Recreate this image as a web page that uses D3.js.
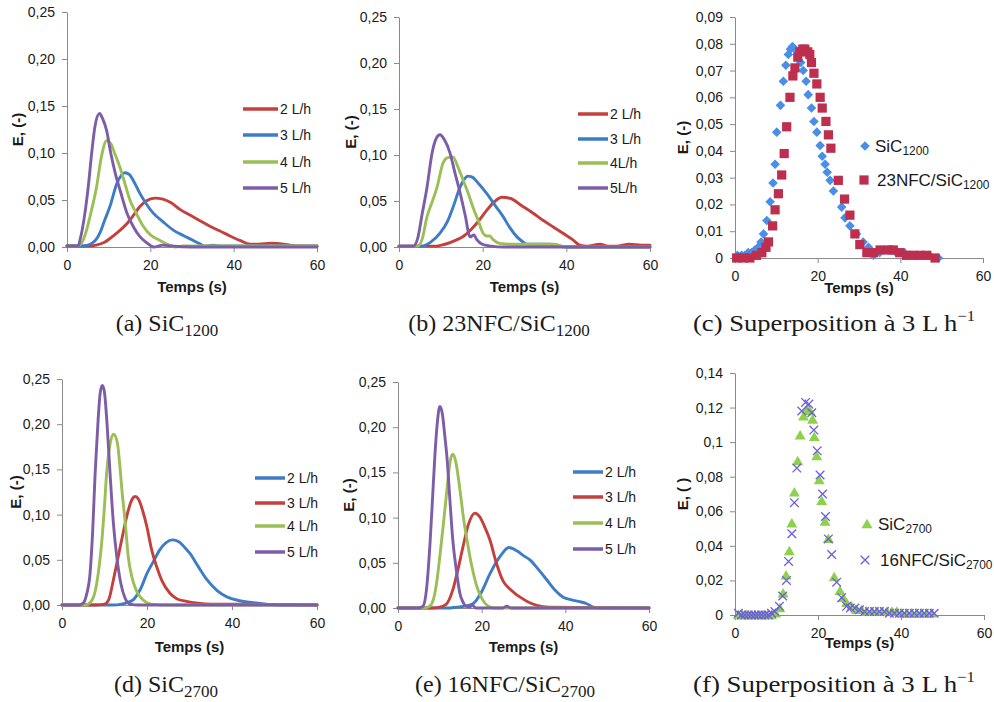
<!DOCTYPE html>
<html><head><meta charset="utf-8">
<script src="https://cdn.jsdelivr.net/npm/d3@7"></script>
<style>body{margin:0;background:#fff}svg{display:block}</style>
</head><body><svg id="c" width="994" height="702"></svg>
<script>
// ---------- DATA ----------
// (a) SiC1200
const tA2=[0,5,7,9,10.3,12,14.4,16,17.5,19,21.1,23,25,27.1,29.5,31.9,34.3,36.7,39,41.5,44,46,49,52,55,60];
const eA2=[0.001,0.001,0.002,0.005,0.009,0.015,0.025,0.034,0.043,0.049,0.052,0.051,0.047,0.040,0.034,0.028,0.022,0.017,0.012,0.007,0.003,0.003,0.004,0.003,0.001,0.001];
const tA3=[0,3,5,7,7.9,9,10.3,12,13,13.9,15,16,17.5,19,20.7,23,25.5,28,30.3,32,33,35,37,40,45,60];
const eA3=[0.001,0.001,0.002,0.008,0.015,0.028,0.043,0.068,0.076,0.079,0.077,0.070,0.057,0.046,0.036,0.027,0.018,0.012,0.007,0.003,0.001,0.002,0.001,0.001,0.001,0.001];
const tA4=[0,2.5,3.5,4.5,5.5,7.1,8.3,9.5,10.5,11.5,12.7,14,15.1,16.5,18.3,20,22.3,24,26,28,35,60];
const eA4=[0.001,0.001,0.004,0.015,0.032,0.064,0.097,0.113,0.110,0.099,0.085,0.066,0.050,0.037,0.022,0.013,0.007,0.003,0.000,0.001,0.001,0.001];
const tA5=[0,2.7,3.1,4.3,5.1,6,6.7,7.8,8.6,9.5,10.5,11.5,12.9,14.4,16,17.5,19,20.8,23,25,30,60];
const eA5=[0.001,0.001,0.007,0.036,0.064,0.103,0.128,0.142,0.136,0.124,0.100,0.080,0.058,0.036,0.021,0.011,0.005,0.000,0.002,0.001,0.000,0.000];
// (b) 23NFC/SiC1200
const tB2=[0,5,9,11,13.9,15.5,17,19,21,23,24.6,26.5,29.6,32,34.4,36.8,39.2,41.5,43.2,45,48,50,52,55,58,60];
const eB2=[0.001,0.001,0.001,0.003,0.008,0.012,0.018,0.028,0.040,0.050,0.054,0.053,0.044,0.037,0.029,0.022,0.015,0.008,0.002,0.001,0.003,0.001,0.001,0.003,0.002,0.002];
const tB3=[0,4,5.5,7.5,9.8,11.5,12.9,14.6,15.5,16.5,17.5,19,21,23,24.9,26.5,28.2,29.5,30.6,33,36,38,40,60];
const eB3=[0.001,0.001,0.001,0.005,0.015,0.027,0.043,0.065,0.073,0.077,0.076,0.069,0.058,0.045,0.033,0.021,0.011,0.006,0.003,0.003,0.003,0.001,0.000,0.000];
const tB4=[0,4.5,5.5,6.7,8,9.1,10.5,11.5,12.9,14,15.3,16.5,17.7,19,20.1,21,21.7,22.5,24.1,27,30,37,40,60];
const eB4=[0.001,0.001,0.008,0.033,0.050,0.065,0.091,0.097,0.098,0.088,0.073,0.059,0.043,0.028,0.015,0.012,0.012,0.008,0.004,0.003,0.003,0.003,0.000,0.000];
const tB5=[0,3.4,4.5,5.5,6.7,7.9,8.8,9.8,10.8,12.2,13.4,14.6,15.8,17,17.9,18.6,19.9,22,25,30,60];
const eB5=[0.001,0.001,0.010,0.035,0.065,0.102,0.117,0.122,0.117,0.102,0.080,0.059,0.035,0.011,0.013,0.008,0.003,0.001,0.000,0.000,0.000];
// (d) SiC2700
const tD2=[0,12,14,15.5,16.8,18.5,20,21.5,23,24.5,26,27.5,29,30.1,32,34.1,36.5,38.8,41.5,44.2,48,52,56,60];
const eD2=[0,0,0.001,0.003,0.006,0.018,0.035,0.048,0.061,0.069,0.072,0.070,0.063,0.057,0.043,0.028,0.016,0.009,0.005,0.003,0.001,0,0,0];
const tD3=[0,8,10,11,12.1,13.2,14.4,15.5,16.5,17.2,18,19,20,21,22.3,23.5,25.4,27,29.3,32,35,40,60];
const eD3=[0,0,0.001,0.006,0.028,0.053,0.080,0.103,0.117,0.120,0.117,0.104,0.086,0.063,0.042,0.027,0.013,0.007,0.004,0.002,0.001,0.001,0];
const tD4=[0,5.5,6.7,7.8,8.8,9.4,10,10.5,11.2,12.1,13,13.6,14.1,14.8,15.6,16.5,17.4,18.4,19.5,21,25,60];
const eD4=[0,0,0.003,0.015,0.045,0.072,0.110,0.146,0.175,0.189,0.180,0.155,0.127,0.095,0.053,0.030,0.017,0.009,0.004,0.001,0,0];
const tD5=[0,4,5,5.8,6.6,7.2,7.8,8.5,9,9.5,10,10.6,11.3,12.1,12.9,13.8,14.8,16,18,60];
const eD5=[0,0,0.002,0.012,0.035,0.080,0.146,0.205,0.235,0.243,0.235,0.200,0.146,0.090,0.053,0.025,0.008,0.001,0,0];
// (e) 16NFC/SiC2700
const tE2=[0,12,14,16,18,20,22,24.4,26.5,28.5,30,31.6,33.5,35.6,37.5,39.5,41.5,43.5,45,46.7,48,55,60];
const eE2=[0,0,0.001,0.002,0.005,0.018,0.038,0.057,0.067,0.063,0.058,0.053,0.043,0.031,0.020,0.012,0.009,0.007,0.005,0.001,0,0,0];
const tE3=[0,8,10,11.5,13.1,14.3,15.5,16.8,18.4,19.5,20.8,22,23.5,25.1,26.5,28,29.2,31,33.2,36,60];
const eE3=[0,0,0.001,0.004,0.020,0.042,0.067,0.092,0.105,0.101,0.089,0.075,0.050,0.030,0.022,0.016,0.012,0.007,0.003,0.001,0];
const tE4=[0,6.5,7.6,8.5,9.3,10,10.9,11.7,12.5,13.1,13.8,14.8,15.7,16.5,17.7,18.9,20,21.3,23,60];
const eE4=[0,0,0.002,0.010,0.030,0.057,0.095,0.131,0.163,0.170,0.162,0.131,0.098,0.075,0.045,0.023,0.011,0.003,0,0];
const tE5=[0,5,6,6.8,7.7,8.3,8.8,9.4,10,10.6,11.2,11.7,12.4,13.1,14,14.8,15.6,16.3,17.1,17.8,18.6,20,25,26,27,60];
const eE5=[0,0,0.002,0.020,0.075,0.125,0.167,0.205,0.223,0.215,0.190,0.167,0.120,0.075,0.040,0.016,0.006,0.002,0.001,0.003,0.000,0,0,0.002,0,0];
// (c) superposition 3 L/h, SiC1200 vs 23NFC/SiC1200
const tC1=[0.6,1.6,2.4,3.2,4,4.8,5.6,6.3,6.9,7.7,8.5,9.2,9.7,10.1,11,11.7,12.3,12.9,13.4,13.9,14.5,15.2,15.9,16.5,17.2,17.7,18.5,19.1,19.8,20.6,21.1,21.8,22.3,23,23.8,25.8,26.6,27.8,29.4,31,32.3,33.5,35,37,39,41,43,45,47,49.2];
const eC1=[0.001,0.001,0.001,0.002,0.002,0.003,0.004,0.006,0.009,0.014,0.021,0.028,0.035,0.047,0.057,0.066,0.072,0.076,0.078,0.079,0.078,0.076,0.073,0.070,0.066,0.061,0.056,0.051,0.047,0.042,0.038,0.035,0.032,0.029,0.025,0.019,0.015,0.012,0.009,0.006,0.004,0.001,0.002,0.003,0.002,0.002,0.001,0.001,0.001,0.000];
const tC2=[0.4,2,3.6,5.2,6.5,7.5,8.1,9.1,9.7,10.5,11.3,11.9,12.5,13.3,14,14.5,15.2,15.7,16.4,16.9,17.6,18.1,18.5,19.1,19.8,20.6,21.1,22,22.6,23.2,25,26.5,27.8,29,30.2,31.9,33.5,35.1,37.1,38.3,39.9,41.5,43.1,44.8,46.4,48.4];
const eC2=[0,0,0,0.001,0.002,0.004,0.006,0.012,0.018,0.024,0.031,0.039,0.049,0.060,0.068,0.071,0.075,0.077,0.078,0.078,0.077,0.076,0.073,0.069,0.065,0.060,0.056,0.051,0.046,0.041,0.029,0.022,0.016,0.009,0.005,0.002,0.002,0.003,0.003,0.003,0.002,0.001,0.001,0.001,0.001,0];
// (f) superposition 3 L/h, SiC2700 vs 16NFC/SiC2700
const tF1=[0.8,1.8,2.8,3.8,4.8,5.8,6.8,7.8,8.8,9.8,10.8,11.6,12.3,13.1,13.7,14.3,15.1,15.7,16.5,17.3,18.1,18.7,19.1,19.7,20.3,20.9,21.7,22.5,23.9,25.3,26.1,26.9,28.1,29.3,30.5,31.7,33,34.2,35.4,36.6,37.8,39,40.2,41.4,42.6,43.8,45,46.2,47.4];
const eF1=[0,0,0,0,0,0,0,0,0,0.001,0.004,0.0125,0.023,0.037,0.053,0.071,0.089,0.104,0.115,0.119,0.118,0.113,0.103,0.092,0.078,0.066,0.054,0.044,0.022,0.014,0.010,0.007,0.005,0.003,0.003,0.002,0.002,0.002,0.002,0.002,0.002,0.002,0.001,0.001,0.001,0.001,0.001,0.001,0.001];
const tF2=[0.8,1.6,2.4,3.2,4,4.8,5.6,6.4,7.2,8,8.8,9.6,10.7,11.5,12.4,12.9,13.7,14.3,14.9,16.1,17,17.8,18.5,19,19.8,20.5,21.1,21.8,22.5,23.3,24.5,25.7,26.9,27.8,28.9,30,31.2,32.4,33.6,34.8,36,37.2,38.4,39.6,40.8,42,43.2,44.4,45.6,46.8,48];
const eF2=[0.001,0,0,0,0,0,0,0,0,0,0.001,0.002,0.005,0.011,0.020,0.031,0.047,0.065,0.085,0.118,0.123,0.122,0.117,0.107,0.095,0.081,0.070,0.057,0.044,0.035,0.019,0.010,0.005,0.004,0.004,0.003,0.002,0.002,0.002,0.002,0.002,0.001,0.001,0.001,0.001,0.001,0.001,0.001,0.001,0.001,0.001];

const xTicks=[0,20,40,60];
const yTicksE=[0,0.05,0.10,0.15,0.20,0.25];
const yTicksC=[0,0.01,0.02,0.03,0.04,0.05,0.06,0.07,0.08,0.09];
const yTicksF=[0,0.02,0.04,0.06,0.08,0.10,0.12,0.14];
const flowLabels=["2 L/h","3 L/h","4 L/h","5 L/h"];
const flowLabelsB=["2 L/h","3 L/h","4L/h","5L/h"];

// ---------- STYLE ----------
const RED="#C3403D",BLUE="#3D7CC6",GREEN="#9BBE55",PURPLE="#7D5DA7";
const DIA="#4A8FE7",SQ="#BE2E4E",TRI="#8CD24A",XC="#6F5DE0";
const AX="#8a8a8a", TXT="#1a1a1a";
const SANS="'Liberation Sans', Arial, sans-serif";
const SERIF="'Liberation Serif', 'Times New Roman', serif";

const svg=d3.select("#c");
const fmt2=d=>d.toFixed(2).replace('.',',');
const fmtS=d=>d===0?'0':String(+d.toFixed(2)).replace('.',',');

function frame(cfg){
  const x=d3.scaleLinear().domain([0,60]).range([cfg.x0,cfg.x1]);
  const y=d3.scaleLinear().domain([0,cfg.ymax]).range([cfg.yb,cfg.yt]);
  const g=svg.append('g');
  const ya=g.append('g').attr('transform',`translate(${cfg.x0},0)`)
    .call(d3.axisLeft(y).tickValues(cfg.yticks).tickFormat(cfg.fmt).tickSize(5).tickSizeOuter(0).tickPadding(7));
  const xa=g.append('g').attr('transform',`translate(0,${cfg.yb})`)
    .call(d3.axisBottom(x).tickValues(xTicks).tickFormat(d=>d).tickSize(5).tickSizeOuter(0).tickPadding(8));
  [ya,xa].forEach(a=>{
    a.attr('font-family',SANS).attr('font-size',14);
    a.select('.domain').attr('stroke',AX);
    a.selectAll('.tick line').attr('stroke',AX);
    a.selectAll('.tick text').attr('fill',TXT);
  });
  g.append('text').attr('x',(cfg.x0+cfg.x1)/2).attr('y',cfg.xlabY)
    .attr('text-anchor','middle').attr('font-family',SANS).attr('font-weight','bold')
    .attr('font-size',15).attr('fill',TXT).text('Temps (s)');
  g.append('text').attr('transform',`translate(${cfg.ylabX},${(cfg.yb+cfg.yt)/2}) rotate(-90)`)
    .attr('text-anchor','middle').attr('dominant-baseline','central').attr('font-family',SANS)
    .attr('font-weight','bold').attr('font-size',15).attr('fill',TXT).text(cfg.ylab);
  return {x,y,g};
}

function linePanel(cfg){
  const {x,y,g}=frame(cfg);
  const line=d3.line().x(d=>x(d[0])).y(d=>y(d[1])).curve(d3.curveMonotoneX);
  cfg.series.forEach((s,i)=>{
    g.append('path').datum(d3.zip(s.t,s.e)).attr('d',line)
      .attr('fill','none').attr('stroke',s.color).attr('stroke-width',2.9)
      .attr('stroke-linejoin','round').attr('stroke-linecap','round');
    const ly=cfg.leg.y[i];
    g.append('line').attr('x1',cfg.leg.x1).attr('x2',cfg.leg.x2).attr('y1',ly).attr('y2',ly)
      .attr('stroke',s.color).attr('stroke-width',3.5);
    g.append('text').attr('x',cfg.leg.x2+2).attr('y',ly).attr('dominant-baseline','central')
      .attr('font-family',SANS).attr('font-size',14).attr('fill',TXT).text(s.label);
  });
}

function sym(g,type,color,cx,cy){
  if(type==='dia'){
    g.append('path').attr('d',d3.symbol(d3.symbolSquare,46)()).attr('transform',`translate(${cx},${cy}) rotate(45)`).attr('fill',color);
  } else if(type==='sq'){
    g.append('path').attr('d',d3.symbol(d3.symbolSquare,85)()).attr('transform',`translate(${cx},${cy})`).attr('fill',color);
  } else if(type==='tri'){
    g.append('path').attr('d',d3.symbol(d3.symbolTriangle,52)()).attr('transform',`translate(${cx},${cy+1})`).attr('fill',color);
  } else {
    const r=4.3;
    g.append('path').attr('d',`M${-r},${-r}L${r},${r}M${-r},${r}L${r},${-r}`).attr('transform',`translate(${cx},${cy})`)
      .attr('stroke',color).attr('stroke-width',1.3).attr('fill','none');
  }
}

function legText(g,x,y,main,sub,fs){
  const t=g.append('text').attr('x',x).attr('y',y).attr('dominant-baseline','central')
    .attr('font-family',SANS).attr('font-size',fs).attr('fill',TXT);
  t.append('tspan').text(main);
  t.append('tspan').attr('font-size',fs*0.7).attr('dy',5).text(sub);
}

function scatterPanel(cfg){
  const {x,y,g}=frame(cfg);
  cfg.series.forEach((s,i)=>{
    s.t.forEach((tv,j)=>sym(g,s.type,s.color,x(tv),y(s.e[j])));
    sym(g,s.type,s.color,cfg.leg[i].sx,cfg.leg[i].sy);
    legText(g,cfg.leg[i].tx,cfg.leg[i].sy,s.main,s.sub,17);
  });
}

function caption(cx,by,w,parts){
  const t=svg.append('text').attr('x',cx).attr('y',by).attr('text-anchor','middle')
    .attr('font-family',SERIF).attr('font-size',24).attr('fill',TXT);
  if(w) t.attr('textLength',w).attr('lengthAdjust','spacingAndGlyphs');
  let shift=0;
  parts.forEach(p=>{
    const sp=t.append('tspan').text(p[0]);
    let target=0;
    if(p[1]==='sub'){sp.attr('font-size',17);target=5;}
    if(p[1]==='sup'){sp.attr('font-size',15);target=-10;}
    if(target!==shift){sp.attr('dy',target-shift);shift=target;}
  });
}

// ---------- PANELS ----------
linePanel({x0:67,x1:317,yb:247,yt:12,ymax:0.25,yticks:yTicksE,fmt:fmt2,ylab:'E, (-)',ylabX:17,xlabY:292,
  leg:{x1:243,x2:278,y:[109,135,162,188]},
  series:[{t:tA2,e:eA2,color:RED,label:flowLabels[0]},{t:tA3,e:eA3,color:BLUE,label:flowLabels[1]},
          {t:tA4,e:eA4,color:GREEN,label:flowLabels[2]},{t:tA5,e:eA5,color:PURPLE,label:flowLabels[3]}]});
linePanel({x0:399,x1:650,yb:247,yt:17,ymax:0.25,yticks:yTicksE,fmt:fmt2,ylab:'E, (-)',ylabX:350,xlabY:292,
  leg:{x1:578,x2:608,y:[114,139,163,188]},
  series:[{t:tB2,e:eB2,color:RED,label:flowLabelsB[0]},{t:tB3,e:eB3,color:BLUE,label:flowLabelsB[1]},
          {t:tB4,e:eB4,color:GREEN,label:flowLabelsB[2]},{t:tB5,e:eB5,color:PURPLE,label:flowLabelsB[3]}]});
scatterPanel({x0:735,x1:983,yb:258,yt:17,ymax:0.09,yticks:yTicksC,fmt:fmtS,ylab:'E, (-)',ylabX:682,xlabY:293,
  leg:[{sx:865,sy:146,tx:875},{sx:864,sy:180,tx:877}],
  series:[{t:tC1,e:eC1,type:'dia',color:DIA,main:'SiC',sub:'1200'},
          {t:tC2,e:eC2,type:'sq',color:SQ,main:'23NFC/SiC',sub:'1200'}]});
linePanel({x0:62,x1:317,yb:605,yt:379,ymax:0.25,yticks:yTicksE,fmt:fmt2,ylab:'E, (-)',ylabX:15,xlabY:652,
  leg:{x1:255,x2:285,y:[478,503,526,552]},
  series:[{t:tD2,e:eD2,color:BLUE,label:flowLabels[0]},{t:tD3,e:eD3,color:RED,label:flowLabels[1]},
          {t:tD4,e:eD4,color:GREEN,label:flowLabels[2]},{t:tD5,e:eD5,color:PURPLE,label:flowLabels[3]}]});
linePanel({x0:398,x1:649,yb:608,yt:382,ymax:0.25,yticks:yTicksE,fmt:fmt2,ylab:'E, (-)',ylabX:348,xlabY:652,
  leg:{x1:573,x2:603,y:[472,497,523,549]},
  series:[{t:tE2,e:eE2,color:BLUE,label:flowLabels[0]},{t:tE3,e:eE3,color:RED,label:flowLabels[1]},
          {t:tE4,e:eE4,color:GREEN,label:flowLabels[2]},{t:tE5,e:eE5,color:PURPLE,label:flowLabels[3]}]});
scatterPanel({x0:735,x1:984,yb:615,yt:373,ymax:0.14,yticks:yTicksF,fmt:fmtS,ylab:'E, ( )',ylabX:682,xlabY:648,
  leg:[{sx:867,sy:524,tx:878},{sx:865,sy:560,tx:880}],
  series:[{t:tF1,e:eF1,type:'tri',color:TRI,main:'SiC',sub:'2700'},
          {t:tF2,e:eF2,type:'x',color:XC,main:'16NFC/SiC',sub:'2700'}]});

// ---------- CAPTIONS ----------
caption(167,331,null,[['(a)  SiC','n'],['1200','sub']]);
caption(499,331,null,[['(b)  23NFC/SiC','n'],['1200','sub']]);
caption(834,331,282,[['(c)  Superposition à 3 L h','n'],['−1','sup']]);
caption(166,692,null,[['(d)  SiC','n'],['2700','sub']]);
caption(505,692,null,[['(e)  16NFC/SiC','n'],['2700','sub']]);
caption(834,692,282,[['(f)  Superposition à 3 L h','n'],['−1','sup']]);
</script></body></html>
